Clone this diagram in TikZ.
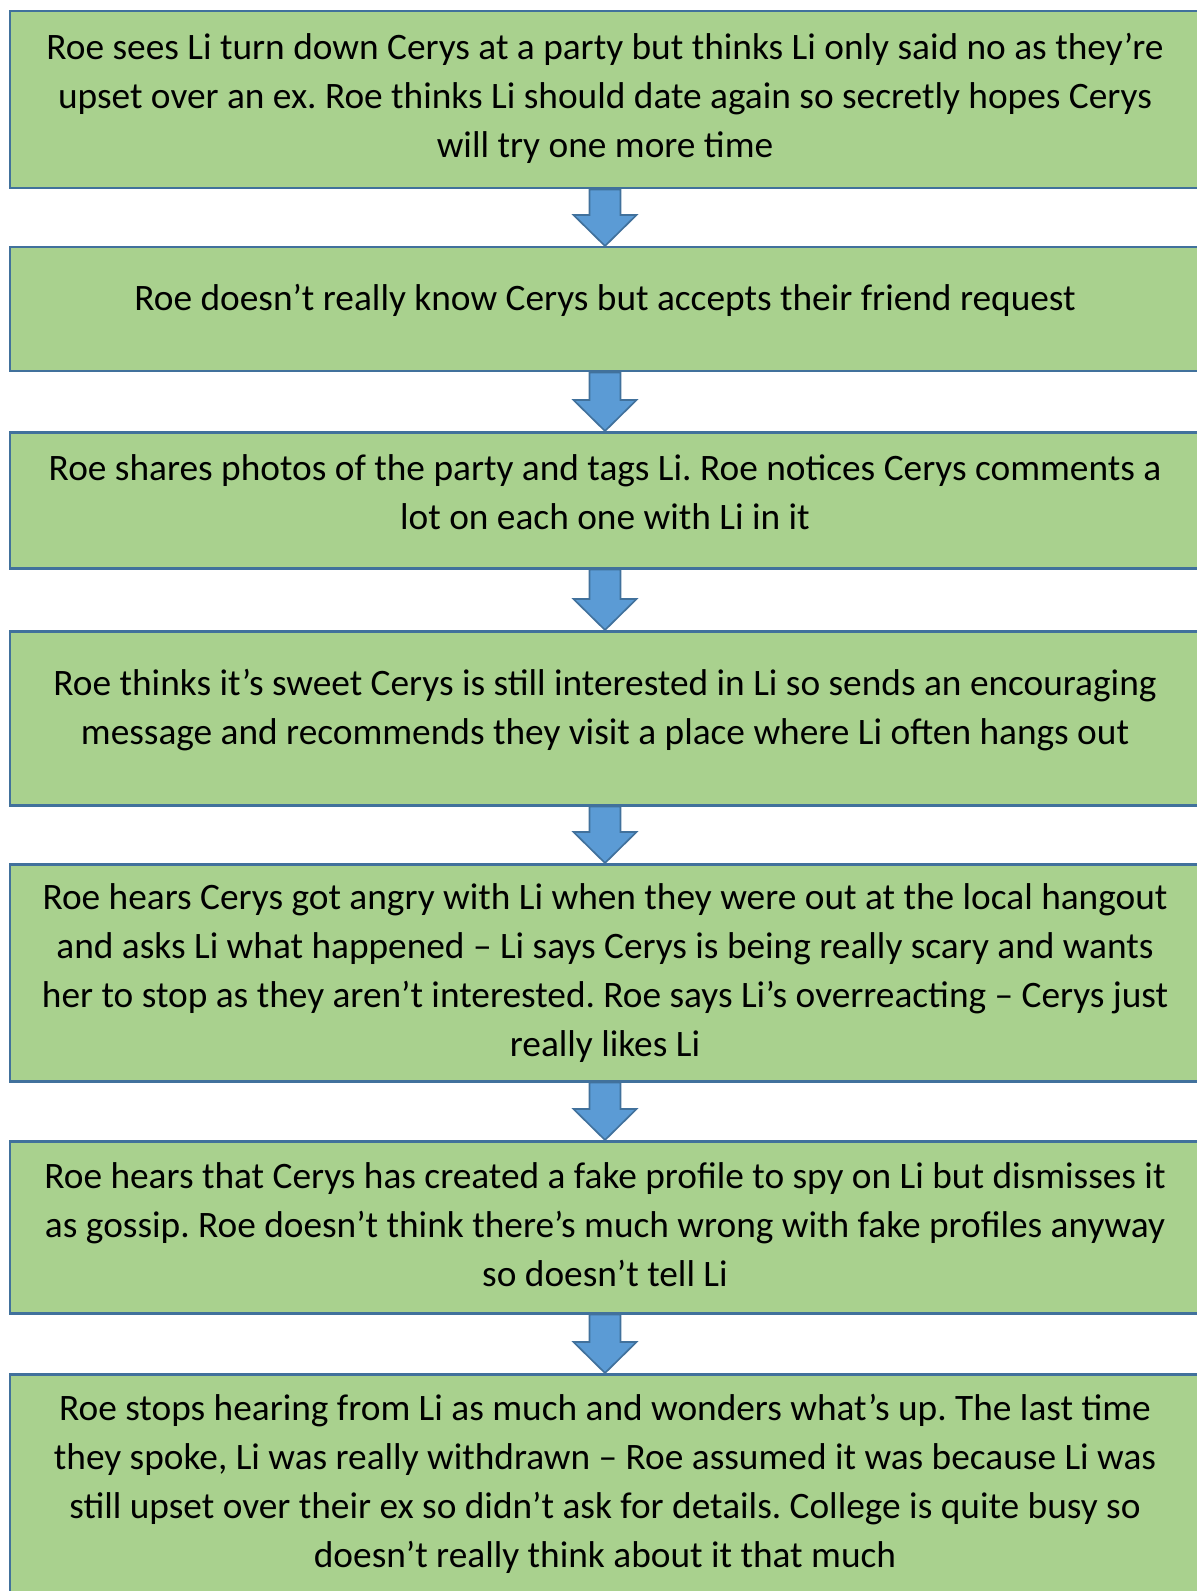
\documentclass[tikz,border=0pt]{standalone}
\usepackage{fontspec}
\setmainfont{Carlito}
\usepackage{tikz}
\usetikzlibrary{calc}
\definecolor{leaf}{HTML}{A9D18E}
\definecolor{edge}{HTML}{41719C}
\definecolor{sky}{HTML}{5B9BD5}
\frenchspacing
% extra depth on the last line lifts the text in its box
\newcommand{\lift}[1]{\rule[-#1pt]{0pt}{0pt}}

\begin{document}
\begin{tikzpicture}[x=0.3pt,y=-0.3pt,
  font=\fontsize{11.2}{14.7}\selectfont,
  stepbox/.style={draw=edge,fill=leaf,line width=0.75pt,anchor=north,
    minimum width=357pt,inner sep=0pt,align=center},
  dn/.style={draw=edge,fill=sky,line width=0.5pt,line join=miter}]
\useasboundingbox (0,0) rectangle (1197,1591);
\clip (0,0) rectangle (1197,1591);
\node[stepbox,minimum height=53.1pt] (s1) at (605,10) {Roe sees Li turn down Cerys at a party but thinks Li only said no as they’re\\
  upset over an ex. Roe thinks Li should date again so secretly hopes Cerys\\
  will try one more time\lift{2.4}};
\node[stepbox,minimum height=37.2pt] (s2) at (605,246) {Roe doesn’t really know Cerys but accepts their friend request\lift{7.2}};
\node[stepbox,minimum height=40.8pt] (s3) at (605,431) {Roe shares photos of the party and tags Li. Roe notices Cerys comments a\\
  lot on each one with Li in it\lift{5.1}};
\node[stepbox,minimum height=52.2pt] (s4) at (605,630) {Roe thinks it’s sweet Cerys is still interested in Li so sends an encouraging\\
  message and recommends they visit a place where Li often hangs out\lift{6.9}};
\node[stepbox,minimum height=65.1pt] (s5) at (605,863) {Roe hears Cerys got angry with Li when they were out at the local hangout\\
  and asks Li what happened – Li says Cerys is being really scary and wants\\
  her to stop as they aren’t interested. Roe says Li’s overreacting – Cerys just\\
  really likes Li};
\node[stepbox,minimum height=51.6pt] (s6) at (605,1140) {Roe hears that Cerys has created a fake profile to spy on Li but dismisses it\\
  as gossip. Roe doesn’t think there’s much wrong with fake profiles anyway\\
  so doesn’t tell Li\lift{1.5}};
\node[stepbox,minimum height=71.1pt] (s7) at (605,1373) {Roe stops hearing from Li as much and wonders what’s up. The last time\\
  they spoke, Li was really withdrawn – Roe assumed it was because Li was\\
  still upset over their ex so didn’t ask for details. College is quite busy so\\
  doesn’t really think about it that much\lift{6.9}};
% block arrows between the steps
\foreach \a/\b in {s1/s2,s2/s3,s3/s4,s4/s5,s5/s6,s6/s7} {
  \filldraw[dn] ($(\a.south)+(-15.5,0)$) -- ($(\a.south)+(15.5,0)$)
    -- ($(\b.north)+(15.5,-31)$) -- ($(\b.north)+(31.5,-31)$) -- (\b.north)
    -- ($(\b.north)+(-31.5,-31)$) -- ($(\b.north)+(-15.5,-31)$) -- cycle;
}
\end{tikzpicture}
\end{document}
